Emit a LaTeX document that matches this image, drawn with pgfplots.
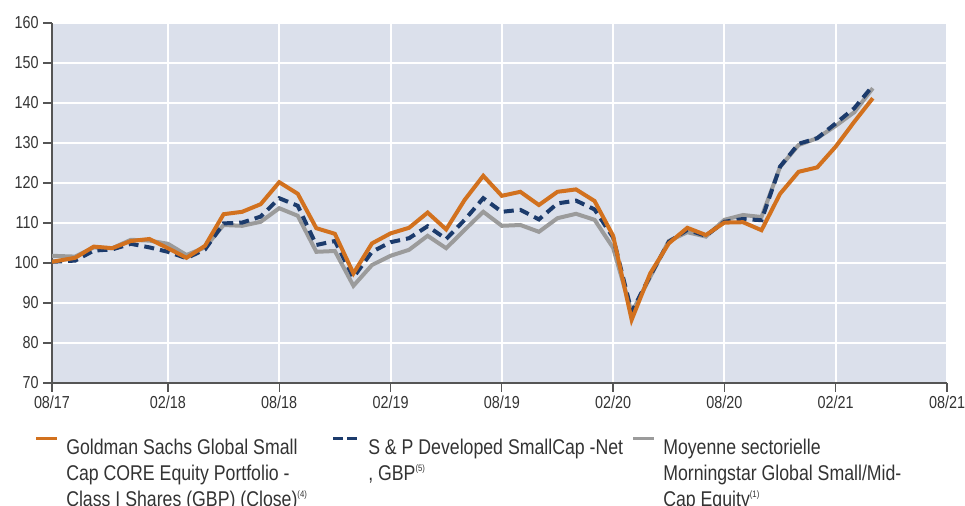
\documentclass[border=0pt]{standalone}
\usepackage{pgfplots}
\usepackage{pgfplotstable}
\pgfplotsset{compat=1.18}
\usepackage{fontspec}
\setmainfont{Liberation Sans}[FakeStretch=0.83]
\definecolor{gsorange}{HTML}{D2711E}
\definecolor{spblue}{HTML}{1C3B6C}
\definecolor{mgray}{HTML}{9B9B9B}
\definecolor{bgc}{HTML}{DBE0EB}
\definecolor{txt}{HTML}{333333}
\definecolor{axc}{HTML}{555555}

\pgfplotstableread{
x gs sp ms
-0.25 100.3 100.3 101.8
1 101.3 100.6 101.6
2 104.1 103.1 103.9
3 103.7 103.4 103.7
4 105.5 104.8 105.8
5 106.0 103.9 105.6
6 103.7 102.8 104.8
7 101.3 101.2 102.0
8 104.3 103.4 103.9
9 112.2 109.9 109.5
10 112.8 110.1 109.3
11 114.7 111.6 110.3
12 120.2 116.2 113.7
13 117.3 114.3 111.8
14 108.7 104.5 102.8
15 107.3 105.5 103.0
16 97.4 96.4 94.3
17 104.9 102.8 99.5
18 107.4 105.2 101.8
19 108.8 106.2 103.3
20 112.6 109.2 106.8
21 108.4 106.0 103.7
22 115.8 110.8 108.3
23 121.8 116.2 112.8
24 116.8 112.8 109.3
25 117.8 113.3 109.5
26 114.5 110.9 107.8
27 117.8 114.9 111.2
28 118.4 115.6 112.3
29 115.5 113.4 110.8
30 106.8 106.4 103.8
31 85.8 87.8 87.6
32 97.4 96.8 96.5
33 104.9 105.3 105.5
34 108.8 108.3 107.7
35 107.0 106.8 106.6
36 110.1 110.3 110.8
37 110.2 111.0 112.0
38 108.2 110.7 111.5
39 117.3 124.1 124.0
40 122.8 129.8 129.5
41 123.9 131.2 131.2
42 129.1 134.9 134.3
43 135.3 138.7 137.7
44 141.2 144.3 143.7
}\data

\newcommand{\sups}[1]{\raisebox{0.75ex}{\fontsize{7}{7}\selectfont(#1)}}

\begin{document}
\begin{tikzpicture}
\useasboundingbox (0,0) rectangle (723.75pt,-379.5pt);
\begin{axis}[
  at={(39pt,-287.25pt)}, anchor=south west,
  scale only axis, width=671.25pt, height=270pt,
  xmin=-0.25, xmax=48, ymin=70, ymax=160,
  axis x line=bottom, axis y line=left,
  axis line style={axc, line width=1.3pt, -},
  axis background/.style={fill=bgc},
  xtick={-0.25,6,12,18,24,30,36,42,48},
  xticklabels={08/17,02/18,08/18,02/19,08/19,02/20,08/20,02/21,08/21},
  ytick={70,80,...,160},
  grid=major, major grid style={white, line width=1.5pt},
  tick align=outside, major tick length=6.5pt,
  tick style={axc, line width=1pt},
  ticklabel style={font=\fontsize{13}{14}\selectfont, text=txt},
  /pgf/number format/assume math mode=true,
]
\addplot[mgray, line width=3pt] table[x=x, y=ms] {\data};
\addplot[spblue, line width=3pt, dash pattern=on 7.5pt off 4.5pt] table[x=x, y=sp] {\data};
\addplot[gsorange, line width=3pt] table[x=x, y=gs] {\data};
\end{axis}
% legend
\draw[gsorange, line width=2.5pt] (27pt,-328.9pt) -- (42.75pt,-328.9pt);
\draw[spblue, line width=2.5pt] (249.75pt,-328.9pt) -- (257.25pt,-328.9pt);
\draw[spblue, line width=2.5pt] (260.25pt,-328.9pt) -- (267.75pt,-328.9pt);
\draw[mgray, line width=2.5pt] (474.75pt,-328.9pt) -- (490.5pt,-328.9pt);
\begin{scope}[every node/.style={anchor=base west, inner sep=0pt, text=txt, font=\fontsize{16}{19.5}\selectfont}]
\node at (49.5pt,-340.5pt) {Goldman Sachs Global Small};
\node at (49.5pt,-360pt) {Cap CORE Equity Portfolio -};
\node at (49.5pt,-379.5pt) {Class I Shares (GBP) (Close)\sups{4}};
\node at (276pt,-340.5pt) {S \& P Developed SmallCap -Net};
\node at (276pt,-360pt) {, GBP\sups{5}};
\node at (497.25pt,-340.5pt) {Moyenne sectorielle};
\node at (497.25pt,-360pt) {Morningstar Global Small/Mid-};
\node at (497.25pt,-379.5pt) {Cap Equity\sups{1}};
\end{scope}
\end{tikzpicture}
\end{document}
